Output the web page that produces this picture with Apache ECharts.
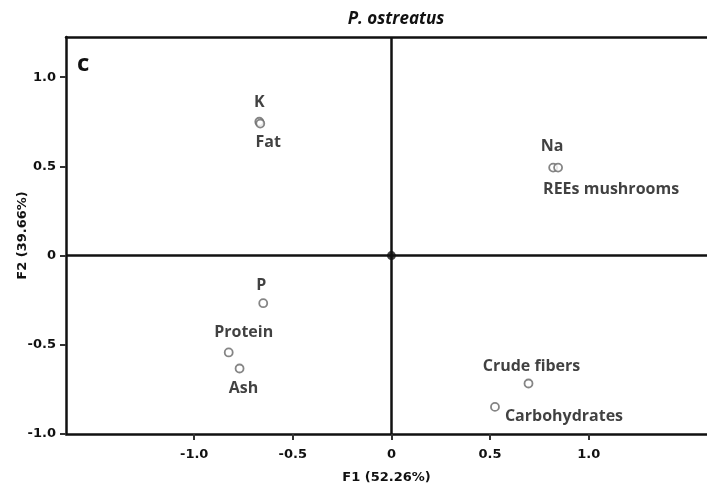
<!DOCTYPE html>
<html><head><meta charset="utf-8">
<script src="https://cdn.jsdelivr.net/npm/echarts@6/dist/echarts.min.js"></script>
<style>html,body{margin:0;padding:0;background:#fff}#c{width:707px;height:483px}</style>
</head><body><div id="c"></div>
<script>
// Data
const names = ["K", "Fat", "Na", "REEs mushrooms", "P", "Protein", "Ash", "Crude fibers", "Carbohydrates"];
const f1 = [-0.67, -0.665, 0.82, 0.845, -0.65, -0.825, -0.77, 0.695, 0.525];
const f2 = [0.75, 0.74, 0.493, 0.493, -0.267, -0.543, -0.633, -0.717, -0.848];
const xTicks = [-1.0, -0.5, 0, 0.5, 1.0];
const yTicks = [-1.0, -0.5, 0, 0.5, 1.0];
const xName = "F1 (52.26%)";
const yName = "F2 (39.66%)";
const titleText = "P. ostreatus";

// label layout (offsets from point centre, px)
const labelOffsets = {
  "K": [0, -19], "Fat": [8, 19], "Na": [-1, -21], "REEs mushrooms": [53, 22],
  "P": [-2, -18], "Protein": [15, -20], "Ash": [4, 20],
  "Crude fibers": [3, -17], "Carbohydrates": [69, 10]
};

const fmt = v => v === 0 ? "0" : v.toFixed(1);
const chart = echarts.init(document.getElementById('c'));
const pts = names.map((n, i) => ({
  name: n, value: [f1[i], f2[i]],
  label: { show: true, position: 'inside', offset: labelOffsets[n], formatter: n }
}));
chart.setOption({
  animation: false,
  title: { text: titleText, left: 391, top: 6, textAlign: 'center',
    textStyle: { fontFamily: 'Open Sans', fontWeight: 'bold', fontStyle: 'italic', fontSize: 17, color: '#111' } },
  grid: { left: 66, right: 0, top: 37, bottom: 49, outerBoundsMode: 'none', containLabel: false },
  xAxis: [{
    type: 'value', min: -1.65, max: 1.6,
    splitLine: { show: false },
    axisLine: { onZero: false, lineStyle: { color: '#111', width: 2.5 } },
    axisTick: { customValues: xTicks, length: 6, lineStyle: { color: '#333', width: 2 } },
    axisLabel: { customValues: xTicks, formatter: fmt, margin: 14, fontFamily: 'DejaVu Sans', fontWeight: 'bold', fontSize: 13, color: '#111' },
    name: xName, nameLocation: 'middle', nameGap: 37,
    nameTextStyle: { fontFamily: 'DejaVu Sans', fontWeight: 'bold', fontSize: 13, color: '#111' }
  }, {
    type: 'value', position: 'top', min: -1.65, max: 1.6,
    splitLine: { show: false }, axisTick: { show: false }, axisLabel: { show: false },
    axisLine: { onZero: false, lineStyle: { color: '#111', width: 2.5 } }
  }],
  yAxis: {
    type: 'value', min: -1.0, max: 1.225,
    splitLine: { show: false },
    axisLine: { onZero: false, lineStyle: { color: '#111', width: 2.5 } },
    axisTick: { customValues: yTicks, length: 6, lineStyle: { color: '#333', width: 2 } },
    axisLabel: { customValues: yTicks, formatter: fmt, margin: 10, fontFamily: 'DejaVu Sans', fontWeight: 'bold', fontSize: 13, color: '#111' },
    name: yName, nameLocation: 'middle', nameGap: 37, nameRotate: 90, nameMoveOverlap: false,
    nameTextStyle: { fontFamily: 'DejaVu Sans', fontWeight: 'bold', fontSize: 13, color: '#111' }
  },
  graphic: [{ type: 'text', left: 77, top: 52, style: { text: 'c', fontFamily: 'Open Sans', fontWeight: 'bold', fontSize: 24, fill: '#111' } }],
  series: [{
    type: 'scatter', symbol: 'circle', symbolSize: 8, z: 5,
    itemStyle: { color: '#fff', borderColor: '#666', borderWidth: 1.8 },
    label: { fontFamily: 'Open Sans', fontWeight: 'bold', fontSize: 16, color: '#111' },
    data: pts,
    markLine: {
      silent: true, symbol: 'none', label: { show: false },
      lineStyle: { color: '#111', width: 2.5, type: 'solid' },
      data: [{ xAxis: 0 }, { yAxis: 0 }]
    }
  }, {
    type: 'scatter', symbolSize: 9, z: 6, itemStyle: { color: '#111' },
    data: [[0, 0]]
  }]
});
</script></body></html>
